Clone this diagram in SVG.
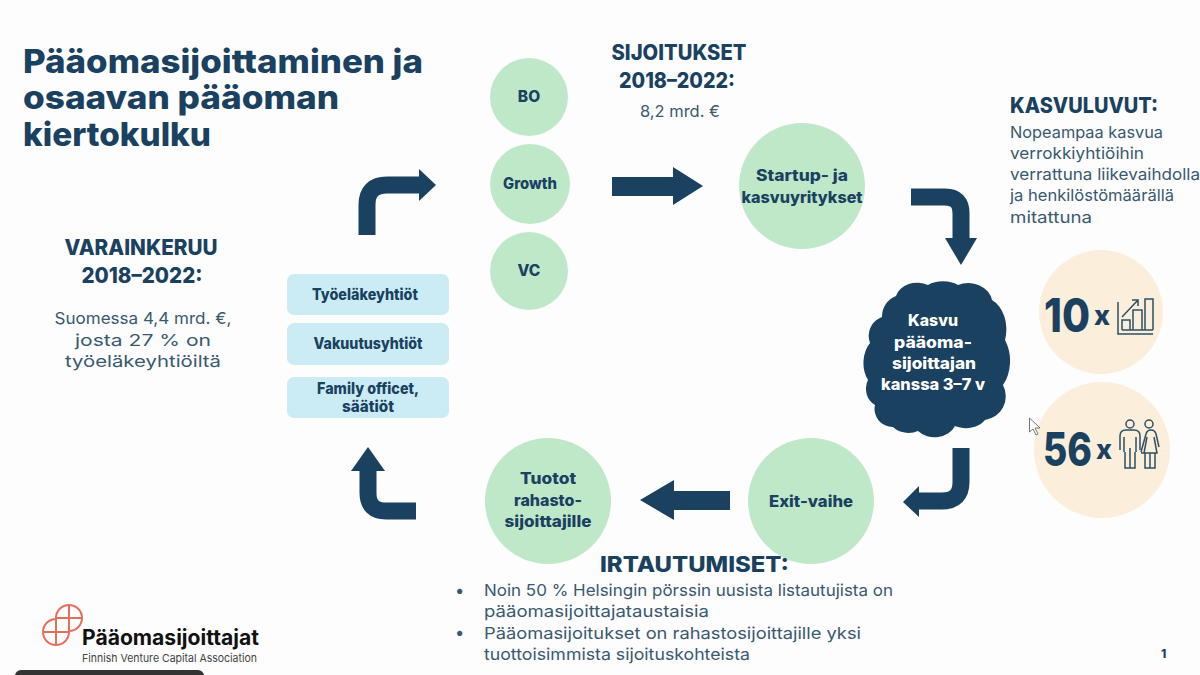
<svg xmlns="http://www.w3.org/2000/svg" width="1200" height="675" viewBox="0 0 1200 675">
<style>
text{font-family:"Inter","Open Sans","Liberation Sans",sans-serif;fill:#1a4160}
.b{font-weight:800}
.c{text-anchor:middle}
.h{font-size:21.5px;font-weight:800}
.n{font-size:15.5px;font-weight:800}
.w{fill:#fff}
.t{font-size:16.5px;fill:#38596f}
.arr{fill:none;stroke:#1a4160;stroke-width:17}
.head{fill:#1a4160}
.g{fill:#bfe8c9}
.p{fill:#cbecf5}
.s{fill:#fbeeda}
.ic{fill:none;stroke:#2d5068;stroke-width:1.5}
</style>
<rect width="1200" height="675" fill="#fdfdfd"/>
<g id="title"><text class="b" font-size="33" x="23" y="73" textLength="400" lengthAdjust="spacingAndGlyphs">Pääomasijoittaminen ja</text><text class="b" font-size="33" x="23" y="109" textLength="316" lengthAdjust="spacingAndGlyphs">osaavan pääoman</text><text class="b" font-size="33" x="23" y="146" textLength="188" lengthAdjust="spacingAndGlyphs">kiertokulku</text></g>
<g id="connectors">
<path class="arr" d="M367 235V205Q367 185 387 185H420"/><path class="head" d="M419 169L436 185L419 201Z"/>
<path class="head" d="M612 177H673V167L703 186L673 205V196H612Z"/>
<path class="arr" d="M911 197H945Q961 197 961 213V240"/><path class="head" d="M945 238H977L961 265Z"/>
<path class="arr" d="M961 448V482Q961 501 942 501H917"/><path class="head" d="M919 486V517L903 502Z"/>
<path class="head" d="M730 491V510H674V520L640 500L674 480V491Z"/>
<path class="arr" d="M416 511H386Q368 511 368 493V468"/><path class="head" d="M351 471H385L368 447Z"/>
</g>
<g id="bo"><circle class="g" cx="529" cy="97" r="39"/><text class="n c" x="529" y="102" font-size="14">BO</text></g>
<g id="growth"><circle class="g" cx="530" cy="184" r="40"/><text class="n c" x="530" y="189" textLength="54" lengthAdjust="spacingAndGlyphs">Growth</text></g>
<g id="vc"><circle class="g" cx="529" cy="271" r="39"/><text class="n c" x="529" y="276">VC</text></g>
<g id="startup"><circle class="g" cx="802" cy="186" r="63"/><text class="n c" x="802" y="181" textLength="92" lengthAdjust="spacingAndGlyphs">Startup- ja</text><text class="n c" x="802" y="203" textLength="121" lengthAdjust="spacingAndGlyphs">kasvuyritykset</text></g>
<g id="sijoitukset"><text class="h c" x="679" y="60" textLength="135" lengthAdjust="spacingAndGlyphs">SIJOITUKSET</text><text class="h c" x="677" y="88" textLength="116" lengthAdjust="spacingAndGlyphs">2018–2022:</text><text class="t c" x="680" y="117" textLength="80" lengthAdjust="spacingAndGlyphs">8,2 mrd. €</text></g>
<g id="kasvuluvut"><text class="h" x="1010" y="113" textLength="148" lengthAdjust="spacingAndGlyphs">KASVULUVUT:</text>
<text class="t" x="1010" y="138" textLength="153" lengthAdjust="spacingAndGlyphs">Nopeampaa kasvua</text><text class="t" x="1010" y="159" textLength="134" lengthAdjust="spacingAndGlyphs">verrokkiyhtiöihin</text><text class="t" x="1010" y="180" textLength="190" lengthAdjust="spacingAndGlyphs">verrattuna liikevaihdolla</text><text class="t" x="1010" y="201" textLength="164" lengthAdjust="spacingAndGlyphs">ja henkilöstömäärällä</text><text class="t" x="1010" y="223" textLength="82" lengthAdjust="spacingAndGlyphs">mitattuna</text></g>
<g id="cloud"><path fill="#1a4160" d="M928 285A22 14 0 0 1 958 285A24 20 0 0 1 992 300A24 32 0 0 1 1005 340A24 34 0 0 1 1003 385A24 24 0 0 1 985 420A22 16 0 0 1 955 426A22 18 0 0 1 918 431A20 16 0 0 1 893 427A18 18 0 0 1 875 405A16 18 0 0 1 868 380A22 28 0 0 1 870 343A20 20 0 0 1 882 317A22 22 0 0 1 896 296A22 18 0 0 1 928 285Z"/><text class="n c w" x="933" y="326" textLength="50" lengthAdjust="spacingAndGlyphs">Kasvu</text><text class="n c w" x="933" y="348" textLength="78" lengthAdjust="spacingAndGlyphs">pääoma-</text><text class="n c w" x="934" y="369" textLength="84" lengthAdjust="spacingAndGlyphs">sijoittajan</text><text class="n c w" x="933" y="390" textLength="104" lengthAdjust="spacingAndGlyphs">kanssa 3–7 v</text></g>
<g id="x10"><circle class="s" cx="1101" cy="312" r="62"/><text class="b" font-size="46" x="1044" y="332" textLength="46" lengthAdjust="spacingAndGlyphs">10</text><text class="b" font-size="27" x="1094" y="325">x</text>
<path class="ic" d="M1118 302V334H1153M1122 330V320H1130V330M1133 330V310H1142V330M1145 330V299H1153V330M1122 330H1153M1122 317L1138 300M1132 300H1138V306"/></g>
<g id="x56"><circle class="s" cx="1102" cy="450" r="68"/><text class="b" font-size="46" x="1043" y="466" textLength="49" lengthAdjust="spacingAndGlyphs">56</text><text class="b" font-size="27" x="1096" y="459">x</text>
<g class="ic"><circle cx="1130" cy="424" r="4"/><circle cx="1149" cy="424" r="4"/><path d="M1120 450V436Q1120 430 1126 430H1134Q1140 430 1140 436V450M1124 437V452M1136 437V452M1125 452V468H1135V452M1130 468V448"/><path d="M1141 452L1146 434Q1147 430 1151 430Q1155 430 1156 434L1159 447M1141 453H1157L1154 437M1145 453V468H1155V453M1150 468V453M1147 437L1144 453"/></g></g>
<g id="exit"><circle class="g" cx="811" cy="501" r="63"/><text class="n c" x="811" y="507" textLength="84" lengthAdjust="spacingAndGlyphs">Exit-vaihe</text></g>
<g id="tuotot"><circle class="g" cx="548" cy="501" r="63"/><text class="n c" x="548" y="484" textLength="56" lengthAdjust="spacingAndGlyphs">Tuotot</text><text class="n c" x="548" y="506" textLength="68" lengthAdjust="spacingAndGlyphs">rahasto-</text><text class="n c" x="548" y="527" textLength="87" lengthAdjust="spacingAndGlyphs">sijoittajille</text></g>
<g id="irtautumiset"><text class="h" x="600" y="572" textLength="189" lengthAdjust="spacingAndGlyphs">IRTAUTUMISET:</text>
<text class="t" x="455" y="596">•</text><text class="t" x="484" y="596" textLength="409" lengthAdjust="spacingAndGlyphs">Noin 50 % Helsingin pörssin uusista listautujista on</text><text class="t" x="484" y="617" textLength="225" lengthAdjust="spacingAndGlyphs">pääomasijoittajataustaisia</text>
<text class="t" x="455" y="638">•</text><text class="t" x="484" y="639" textLength="377" lengthAdjust="spacingAndGlyphs">Pääomasijoitukset on rahastosijoittajille yksi</text><text class="t" x="484" y="660" textLength="266" lengthAdjust="spacingAndGlyphs">tuottoisimmista sijoituskohteista</text></g>
<g id="varainkeruu"><text class="h c" x="141" y="255" textLength="153" lengthAdjust="spacingAndGlyphs">VARAINKERUU</text><text class="h c" x="142" y="283" textLength="121" lengthAdjust="spacingAndGlyphs">2018–2022:</text><text class="t c" x="143" y="324" textLength="177" lengthAdjust="spacingAndGlyphs">Suomessa 4,4 mrd. €,</text><text class="t c" x="143" y="346" textLength="136" lengthAdjust="spacingAndGlyphs">josta 27 % on</text><text class="t c" x="143" y="367" textLength="156" lengthAdjust="spacingAndGlyphs">työeläkeyhtiöiltä</text></g>
<g id="tyoelake"><rect class="p" x="287" y="274" width="162" height="41" rx="7"/><text class="n c" x="365" y="300" textLength="106" lengthAdjust="spacingAndGlyphs">Työeläkeyhtiöt</text></g>
<g id="vakuutus"><rect class="p" x="287" y="323" width="162" height="42" rx="7"/><text class="n c" x="368" y="349" textLength="109" lengthAdjust="spacingAndGlyphs">Vakuutusyhtiöt</text></g>
<g id="family"><rect class="p" x="287" y="377" width="162" height="41" rx="7"/><text class="n c" x="368" y="394" textLength="102" lengthAdjust="spacingAndGlyphs">Family officet,</text><text class="n c" x="368" y="412" textLength="52" lengthAdjust="spacingAndGlyphs">säätiöt</text></g>
<g id="logo"><path fill="none" stroke="#e2705c" stroke-width="2" d="M56 618A13 13 0 1 1 69 631M56 619A13 13 0 1 0 69 632M56 618H82M69 605V632M43 632H69M56 618V645"/>
<text x="82" y="645" font-size="21" font-weight="700" textLength="177" lengthAdjust="spacingAndGlyphs" style="fill:#111">Pääomasijoittajat</text><text x="82" y="662" font-size="11" textLength="175" lengthAdjust="spacingAndGlyphs" style="fill:#444">Finnish Venture Capital Association</text></g>
<text class="b" font-size="12" x="1161" y="658">1</text>
<rect x="15" y="670" width="189" height="12" rx="6" fill="#333"/>
<path id="cursor" d="M1029.500 418V432L1033 429L1036 435L1038 434L1035 428H1040Z" fill="#fff" stroke="#777" stroke-width="1"/>
</svg>
